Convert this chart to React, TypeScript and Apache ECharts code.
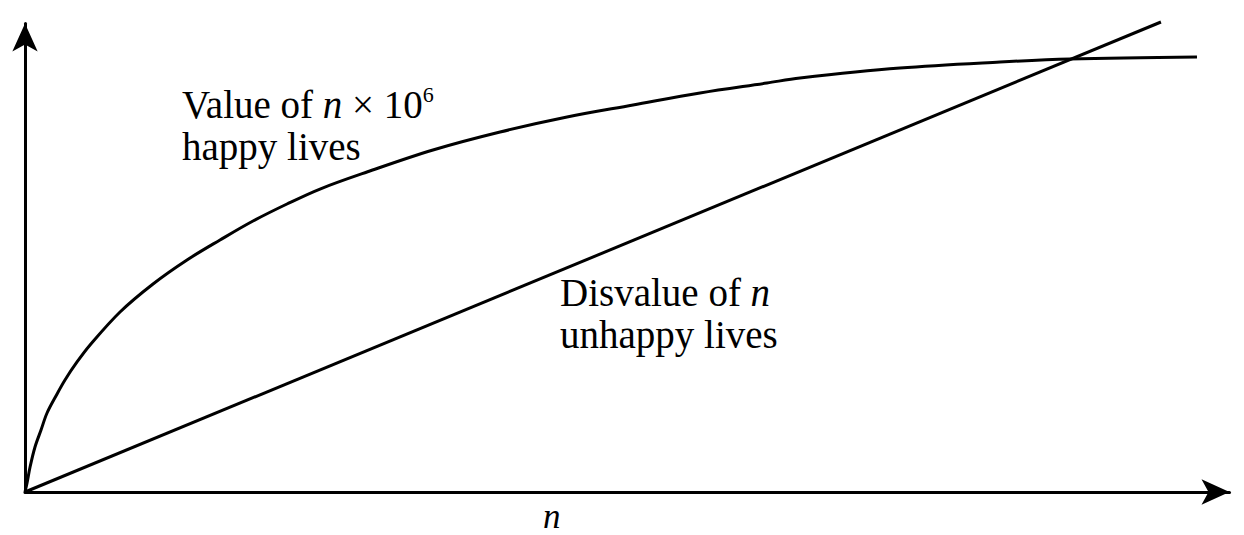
import React, { useEffect, useRef } from "react";
import * as echarts from "echarts";

// Value of n × 10^6 happy lives (concave curve), arbitrary units
const happyX = [0, 0.17, 0.42, 0.83, 1.33, 1.83, 2.57, 3.32, 4.32, 5.4, 7.89, 10.63, 13.45, 16.19, 18.93, 21.75, 24.49, 28.39, 33.87, 39.44, 45.0, 50.48, 56.04, 61.6, 64.34, 72.64, 80.95, 86.76, 97.3];
const happyY = [0, 1.92, 5.34, 9.61, 13.23, 16.86, 20.49, 23.91, 27.75, 31.38, 38.42, 44.4, 49.52, 53.79, 57.84, 61.47, 64.67, 68.3, 73.0, 76.84, 80.04, 82.6, 85.17, 87.3, 88.37, 90.5, 91.78, 92.42, 92.85];
// Disvalue of n unhappy lives (straight line)
const unhappyX = [0, 94.31];
const unhappyY = [0, 100.32];

const xMax = 100;
const yMax = 100;

const SERIF = "'Liberation Serif', 'Times New Roman', serif";

export default function App() {
  const ref = useRef<HTMLDivElement>(null);
  useEffect(() => {
    if (!ref.current) return;
    const chart = echarts.init(ref.current, undefined, { renderer: "svg" });
    const axisCommon = {
      type: "value" as const,
      min: 0,
      axisLine: {
        show: true,
        onZero: false,
        symbol: ["none", "arrow"],
        symbolSize: [19, 28],
        lineStyle: { color: "#000", width: 3 },
      },
      axisTick: { show: false },
      axisLabel: { show: false },
      splitLine: { show: false },
    };
    const main = { fontFamily: SERIF, fontSize: 39, lineHeight: 42, color: "#000" };
    chart.setOption({
      animation: false,
      backgroundColor: "#fff",
      grid: { left: 25, right: 14.5, top: 23.5, bottom: 43, containLabel: false, outerBoundsMode: "none" },
      xAxis: { ...axisCommon, max: xMax },
      yAxis: { ...axisCommon, max: yMax },
      series: [
        {
          type: "line",
          data: happyX.map((x, i) => [x, happyY[i]]),
          showSymbol: false,
          smooth: 0.35,
          clip: false,
          lineStyle: { color: "#000", width: 3 },
        },
        {
          type: "line",
          data: unhappyX.map((x, i) => [x, unhappyY[i]]),
          showSymbol: false,
          clip: false,
          lineStyle: { color: "#000", width: 3 },
        },
      ],
      graphic: [
        {
          type: "text",
          x: 182,
          y: 83,
          style: {
            text: "{a|Value of }{i|n}{a| × 10}{s|6}\n{a|happy lives}",
            verticalAlign: "top",
            rich: {
              a: { ...main },
              i: { ...main, fontStyle: "italic" },
              s: { fontFamily: SERIF, fontSize: 22, lineHeight: 32, verticalAlign: "top", color: "#000" },
            },
          },
        },
        {
          type: "text",
          x: 560,
          y: 271,
          style: {
            text: "{a|Disvalue of }{i|n}\n{a|unhappy lives}",
            verticalAlign: "top",
            rich: {
              a: { ...main },
              i: { ...main, fontStyle: "italic" },
            },
          },
        },
        {
          type: "text",
          x: 543,
          y: 516,
          style: {
            text: "n",
            fontFamily: SERIF,
            fontSize: 35,
            fontStyle: "italic",
            fill: "#000",
            verticalAlign: "middle",
          },
        },
      ],
    });
    return () => chart.dispose();
  }, []);
  return (
    <div
      ref={ref}
      style={{ position: "fixed", left: 0, top: 0, width: 1244, height: 535, background: "#fff" }}
    />
  );
}
